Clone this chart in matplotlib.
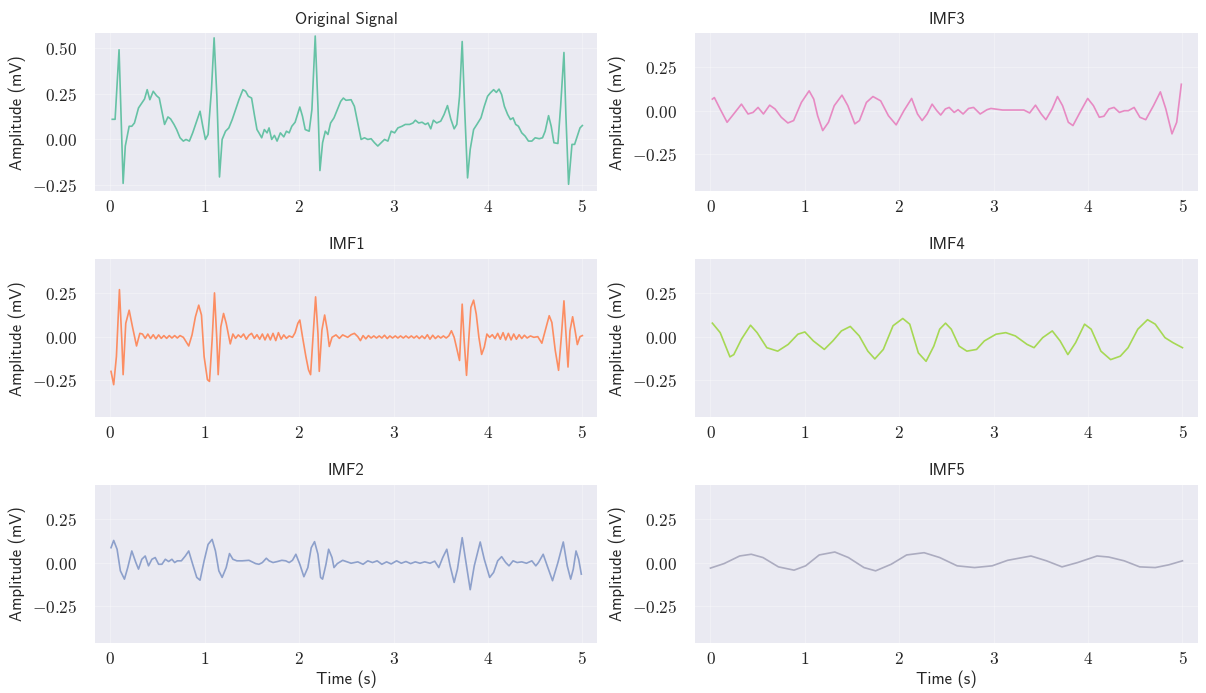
import matplotlib
matplotlib.use("Agg")
import matplotlib.pyplot as plt
from matplotlib.ticker import FuncFormatter


# 1. DATOS (tiempo en s, amplitud en mV)

orig_t = [0.02, 0.05, 0.092, 0.135, 0.158, 0.199, 0.227, 0.255, 0.298, 0.333,
          0.362, 0.39, 0.418, 0.454, 0.489, 0.518, 0.553, 0.574, 0.61, 0.638,
          0.674, 0.702, 0.738, 0.773, 0.801, 0.837, 0.872, 0.908, 0.95, 0.979,
          1.007, 1.035, 1.071, 1.099, 1.128, 1.156, 1.184, 1.22, 1.255, 1.291,
          1.326, 1.362, 1.404, 1.433, 1.461, 1.496, 1.525, 1.553, 1.574, 1.603,
          1.631, 1.66, 1.681, 1.709, 1.738, 1.766, 1.801, 1.837, 1.865, 1.894,
          1.922, 1.957, 2.007, 2.035, 2.064, 2.106, 2.135, 2.17, 2.199, 2.22,
          2.248, 2.277, 2.305, 2.333, 2.369, 2.404, 2.44, 2.468, 2.496, 2.55,
          2.585, 2.621, 2.656, 2.692, 2.727, 2.762, 2.798, 2.833, 2.869, 2.904,
          2.94, 2.975, 3.011, 3.046, 3.089, 3.124, 3.17, 3.206, 3.231, 3.266,
          3.302, 3.337, 3.365, 3.394, 3.422, 3.457, 3.5, 3.535, 3.571, 3.606,
          3.642, 3.67, 3.699, 3.727, 3.755, 3.784, 3.812, 3.848, 3.883, 3.926,
          3.961, 3.996, 4.025, 4.06, 4.089, 4.117, 4.145, 4.174, 4.209, 4.238,
          4.266, 4.294, 4.323, 4.358, 4.394, 4.429, 4.465, 4.5, 4.543, 4.578,
          4.606, 4.642, 4.67, 4.699, 4.741, 4.77, 4.805, 4.826, 4.854, 4.89,
          4.918, 4.947, 4.975, 5.0]
orig_v = [0.11, 0.11, 0.49, -0.24, -0.036, 0.072, 0.072, 0.09, 0.172, 0.199,
          0.221, 0.272, 0.217, 0.263, 0.239, 0.226, 0.136, 0.082, 0.123, 0.112,
          0.082, 0.054, 0.009, -0.009, 0.0, -0.009, 0.036, 0.09, 0.154, 0.072,
          0.0, 0.027, 0.272, 0.555, 0.236, -0.205, 0.0, 0.045, 0.063, 0.109,
          0.163, 0.217, 0.272, 0.263, 0.236, 0.226, 0.136, 0.054, 0.036, 0.009,
          0.054, 0.036, 0.063, 0.0, 0.022, -0.009, 0.036, 0.014, 0.045, 0.036,
          0.072, 0.094, 0.177, 0.127, 0.054, 0.045, 0.163, 0.565, 0.181, -0.17,
          -0.018, 0.045, 0.027, 0.09, 0.118, 0.163, 0.208, 0.226, 0.214, 0.217,
          0.181, 0.09, 0.0, 0.009, 0.0, 0.004, -0.018, -0.036, -0.018, 0.0,
          -0.009, 0.045, 0.036, 0.063, 0.072, 0.082, 0.082, 0.09, 0.105, 0.09,
          0.094, 0.082, 0.09, 0.058, 0.105, 0.09, 0.1, 0.136, 0.185, 0.112,
          0.058, 0.082, 0.236, 0.535, 0.145, -0.21, -0.054, 0.054, 0.082, 0.118,
          0.181, 0.236, 0.254, 0.272, 0.257, 0.275, 0.245, 0.181, 0.136, 0.109,
          0.118, 0.082, 0.072, 0.036, 0.018, -0.009, -0.009, 0.009, 0.004, 0.009,
          0.045, 0.13, 0.072, -0.018, -0.022, 0.181, 0.475, 0.127, -0.245, -0.027,
          -0.027, 0.018, 0.063, 0.076]

imf1_t = [0.007, 0.035, 0.064, 0.096, 0.121, 0.135, 0.163, 0.199, 0.234, 0.277,
          0.312, 0.34, 0.369, 0.397, 0.426, 0.454, 0.482, 0.511, 0.539, 0.567,
          0.596, 0.624, 0.652, 0.681, 0.709, 0.738, 0.773, 0.83, 0.865, 0.901,
          0.936, 0.965, 0.993, 1.028, 1.05, 1.078, 1.103, 1.128, 1.142, 1.17,
          1.199, 1.227, 1.27, 1.298, 1.326, 1.355, 1.383, 1.411, 1.44, 1.468,
          1.496, 1.525, 1.553, 1.582, 1.61, 1.638, 1.667, 1.695, 1.723, 1.752,
          1.78, 1.809, 1.837, 1.865, 1.894, 1.929, 1.957, 1.986, 2.007, 2.035,
          2.071, 2.099, 2.121, 2.149, 2.174, 2.199, 2.213, 2.241, 2.27, 2.298,
          2.319, 2.348, 2.39, 2.426, 2.461, 2.514, 2.55, 2.585, 2.621, 2.649,
          2.677, 2.706, 2.734, 2.762, 2.791, 2.819, 2.848, 2.876, 2.904, 2.933,
          2.961, 2.989, 3.018, 3.046, 3.074, 3.103, 3.131, 3.16, 3.188, 3.216,
          3.245, 3.273, 3.301, 3.33, 3.358, 3.386, 3.415, 3.443, 3.472, 3.5,
          3.528, 3.557, 3.585, 3.613, 3.642, 3.67, 3.699, 3.727, 3.748, 3.773,
          3.798, 3.819, 3.848, 3.876, 3.904, 3.933, 3.961, 3.989, 4.018, 4.046,
          4.074, 4.103, 4.131, 4.16, 4.188, 4.216, 4.245, 4.273, 4.301, 4.33,
          4.358, 4.386, 4.415, 4.45, 4.486, 4.528, 4.571, 4.606, 4.649, 4.677,
          4.713, 4.748, 4.777, 4.805, 4.826, 4.848, 4.869, 4.897, 4.926, 4.947,
          4.975, 5.0]
imf1_v = [-0.201, -0.278, -0.115, 0.272, -0.019, -0.22, 0.077, 0.153, 0.057, -0.054,
          0.019, 0.015, -0.01, 0.015, -0.011, 0.011, -0.013, 0.01, -0.01, 0.006,
          -0.01, 0.006, -0.008, 0.006, -0.008, 0.006, -0.004, -0.054, 0.01, 0.115,
          0.182, 0.125, -0.115, -0.249, -0.259, -0.019, 0.253, -0.019, -0.22, 0.057,
          0.134, 0.077, -0.042, 0.015, -0.01, 0.01, -0.004, 0.015, -0.015, 0.008,
          0.019, -0.01, 0.011, -0.015, 0.015, -0.019, 0.015, -0.019, 0.019, -0.023,
          0.023, -0.015, 0.01, -0.01, 0.004, -0.004, 0.023, 0.077, 0.096, 0.0,
          -0.115, -0.192, -0.22, 0.019, 0.23, 0.019, -0.201, 0.038, 0.125, 0.038,
          -0.057, -0.004, 0.01, -0.01, 0.01, -0.004, 0.011, 0.019, 0.0, -0.023,
          0.006, -0.013, 0.006, -0.008, 0.004, -0.008, 0.004, -0.008, 0.008, -0.011,
          0.004, -0.008, 0.004, -0.008, 0.004, -0.008, 0.004, -0.008, 0.004, -0.008,
          0.004, -0.011, 0.004, -0.011, 0.011, -0.015, 0.008, -0.011, 0.004, -0.008,
          0.004, -0.008, 0.004, 0.034, -0.004, -0.071, -0.138, 0.188, -0.023, -0.224,
          -0.004, 0.169, 0.211, 0.13, -0.004, -0.103, -0.061, 0.015, -0.004, 0.011,
          -0.011, 0.019, -0.015, 0.023, -0.019, 0.019, -0.019, 0.015, -0.015, 0.011,
          -0.011, 0.008, -0.008, 0.004, -0.004, 0.0, -0.038, 0.034, 0.121, 0.082,
          -0.08, -0.195, -0.004, 0.207, 0.015, -0.176, 0.034, 0.115, 0.025, -0.046,
          0.0, 0.006]

imf2_t = [0.007, 0.035, 0.071, 0.106, 0.149, 0.184, 0.227, 0.27, 0.298, 0.333,
          0.369, 0.404, 0.44, 0.475, 0.511, 0.546, 0.582, 0.617, 0.652, 0.681,
          0.709, 0.752, 0.794, 0.83, 0.872, 0.915, 0.95, 0.993, 1.035, 1.078,
          1.113, 1.149, 1.184, 1.227, 1.262, 1.298, 1.34, 1.397, 1.468, 1.539,
          1.574, 1.61, 1.652, 1.681, 1.723, 1.77, 1.816, 1.858, 1.894, 1.929,
          1.965, 2.007, 2.05, 2.092, 2.128, 2.163, 2.199, 2.227, 2.248, 2.284,
          2.312, 2.348, 2.369, 2.404, 2.461, 2.55, 2.621, 2.677, 2.727, 2.777,
          2.826, 2.876, 2.926, 2.975, 3.032, 3.082, 3.131, 3.181, 3.23, 3.28,
          3.33, 3.387, 3.436, 3.479, 3.521, 3.564, 3.599, 3.642, 3.677, 3.727,
          3.762, 3.812, 3.855, 3.918, 3.961, 4.018, 4.06, 4.103, 4.145, 4.188,
          4.223, 4.266, 4.309, 4.358, 4.408, 4.465, 4.507, 4.535, 4.585, 4.628,
          4.684, 4.741, 4.798, 4.84, 4.876, 4.904, 4.933, 4.961, 4.989]
imf2_v = [0.086, 0.128, 0.077, -0.048, -0.096, -0.029, 0.067, 0.0, -0.038, 0.019,
          0.038, -0.019, 0.019, 0.029, -0.01, -0.01, 0.019, 0.006, 0.019, 0.0,
          0.01, 0.01, 0.038, 0.067, -0.01, -0.086, -0.102, 0.01, 0.105, 0.134,
          0.067, -0.048, -0.086, -0.029, 0.052, 0.019, 0.01, 0.01, 0.013, -0.006,
          -0.01, 0.0, 0.025, 0.01, 0.0, 0.006, 0.013, 0.01, 0.0, 0.013,
          0.048, -0.01, -0.082, -0.029, 0.086, 0.121, 0.048, -0.086, -0.096, -0.01,
          0.077, 0.029, -0.029, -0.006, 0.013, -0.004, 0.004, -0.01, 0.01, 0.0,
          0.01, -0.01, 0.004, -0.008, 0.01, -0.004, 0.006, -0.006, 0.004, -0.004,
          0.004, -0.004, 0.008, -0.029, 0.029, 0.077, -0.019, -0.115, -0.038, 0.144,
          0.019, -0.157, -0.019, 0.119, 0.019, -0.086, -0.057, 0.01, 0.034, 0.0,
          -0.019, 0.01, 0.0, 0.004, -0.004, 0.01, -0.019, 0.0, 0.048, -0.019,
          -0.105, 0.0, 0.119, -0.019, -0.096, -0.038, 0.067, 0.019, -0.067]

imf3_t = [0.02, 0.041, 0.102, 0.176, 0.246, 0.328, 0.398, 0.451, 0.504, 0.561,
          0.627, 0.684, 0.75, 0.82, 0.881, 0.963, 1.045, 1.094, 1.135, 1.189,
          1.25, 1.311, 1.393, 1.455, 1.529, 1.578, 1.652, 1.721, 1.803, 1.885,
          1.967, 2.049, 2.131, 2.193, 2.242, 2.295, 2.348, 2.398, 2.439, 2.488,
          2.529, 2.582, 2.623, 2.676, 2.734, 2.787, 2.857, 2.93, 2.971, 3.094,
          3.217, 3.32, 3.381, 3.443, 3.504, 3.553, 3.619, 3.676, 3.73, 3.791,
          3.84, 3.914, 3.996, 4.057, 4.119, 4.168, 4.221, 4.275, 4.332, 4.385,
          4.426, 4.488, 4.549, 4.611, 4.693, 4.766, 4.824, 4.889, 4.939, 4.988]
imf3_v = [0.067, 0.076, 0.01, -0.067, -0.019, 0.038, -0.019, -0.01, 0.019, -0.019,
          0.032, 0.01, -0.038, -0.071, -0.057, 0.048, 0.115, 0.067, -0.029, -0.115,
          -0.067, 0.029, 0.09, 0.029, -0.076, -0.057, 0.048, 0.082, 0.057, -0.029,
          -0.082, 0.0, 0.071, -0.019, -0.057, -0.019, 0.038, 0.0, -0.025, 0.01,
          0.019, -0.01, 0.006, -0.019, 0.013, 0.019, -0.019, 0.006, 0.013, 0.004,
          0.004, 0.004, -0.013, 0.032, -0.019, -0.052, 0.01, 0.082, 0.029, -0.067,
          -0.086, -0.01, 0.071, 0.029, -0.038, -0.032, 0.01, 0.019, -0.01, 0.0,
          0.0, 0.019, -0.038, -0.052, 0.029, 0.109, 0.01, -0.134, -0.067, 0.153]

imf4_t = [0.02, 0.103, 0.206, 0.247, 0.329, 0.424, 0.494, 0.597, 0.712, 0.823,
          0.926, 1.0, 1.09, 1.206, 1.296, 1.387, 1.481, 1.576, 1.667, 1.741,
          1.831, 1.934, 2.037, 2.111, 2.202, 2.284, 2.366, 2.428, 2.49, 2.551,
          2.634, 2.716, 2.819, 2.901, 3.025, 3.128, 3.23, 3.354, 3.428, 3.519,
          3.621, 3.704, 3.786, 3.868, 3.963, 4.033, 4.136, 4.239, 4.342, 4.424,
          4.527, 4.63, 4.712, 4.815, 4.9, 5.0]
imf4_v = [0.078, 0.023, -0.117, -0.104, -0.014, 0.066, 0.023, -0.064, -0.084, -0.045,
          0.014, 0.027, -0.025, -0.074, -0.025, 0.033, 0.059, 0.004, -0.084, -0.129,
          -0.074, 0.063, 0.105, 0.072, -0.094, -0.143, -0.055, 0.043, 0.078, 0.043,
          -0.055, -0.084, -0.074, -0.025, 0.014, 0.023, 0.004, -0.045, -0.064, -0.006,
          0.033, -0.025, -0.104, -0.035, 0.072, 0.043, -0.084, -0.133, -0.113, -0.064,
          0.043, 0.098, 0.072, -0.006, -0.035, -0.064]

imf5_t = [0.0, 0.144, 0.309, 0.432, 0.556, 0.72, 0.885, 1.008, 1.152, 1.317,
          1.461, 1.626, 1.749, 1.914, 2.078, 2.263, 2.428, 2.613, 2.798, 2.984,
          3.148, 3.395, 3.56, 3.724, 3.889, 4.095, 4.218, 4.383, 4.547, 4.712,
          4.856, 5.0]
imf5_v = [-0.032, -0.006, 0.038, 0.048, 0.029, -0.025, -0.044, -0.019, 0.044, 0.061,
          0.029, -0.029, -0.048, -0.01, 0.044, 0.057, 0.029, -0.019, -0.029, -0.019,
          0.013, 0.038, 0.01, -0.025, 0.0, 0.038, 0.032, 0.01, -0.025, -0.029,
          -0.013, 0.01]

titulos = ["Original Signal", "IMF1", "IMF2", "IMF3", "IMF4", "IMF5"]
colores = ["#66c2a5", "#fc8d62", "#8da0cb", "#e78ac3", "#a6d854", "#acacc0"]
series = [(orig_t, orig_v), (imf1_t, imf1_v), (imf2_t, imf2_v),
          (imf3_t, imf3_v), (imf4_t, imf4_v), (imf5_t, imf5_v)]


# 2. ESTILO

plt.rcParams["mathtext.fontset"] = "cm"
FUENTE = "cmss10"
FONDO = "#EAEAF2"

fmt_y = FuncFormatter(lambda v, p: f"${v:.2f}$")
fmt_x = FuncFormatter(lambda v, p: f"${v:g}$")


# 3. FIGURA

fig, axes = plt.subplots(3, 2, figsize=(12.06, 6.93), dpi=100)
fig.subplots_adjust(left=0.079, right=0.993, top=0.952, bottom=0.072,
                    wspace=0.195, hspace=0.43)

# orden: columna izquierda (original, imf1, imf2), derecha (imf3, imf4, imf5)
posiciones = [(0, 0), (1, 0), (2, 0), (0, 1), (1, 1), (2, 1)]

for i, (fila, col) in enumerate(posiciones):
    ax = axes[fila, col]
    t, v = series[i]
    ax.set_facecolor(FONDO)
    ax.plot(t, v, color=colores[i], linewidth=1.2)
    ax.set_title(titulos[i], fontfamily=FUENTE, fontsize=12, color="#262626", pad=7)
    ax.set_ylabel("Amplitude (mV)", fontfamily=FUENTE, fontsize=12, color="#262626")
    if fila == 2:
        ax.set_xlabel("Time (s)", fontfamily=FUENTE, fontsize=12, color="#262626", labelpad=2)

    ax.set_xlim(-0.16, 5.16)
    ax.set_xticks([0, 1, 2, 3, 4, 5])
    if i == 0:
        ax.set_ylim(-0.283, 0.58)
        ax.set_yticks([-0.25, 0.0, 0.25, 0.5])
    else:
        ax.set_ylim(-0.466, 0.448)
        ax.set_yticks([-0.25, 0.0, 0.25])
    ax.xaxis.set_major_formatter(fmt_x)
    ax.yaxis.set_major_formatter(fmt_y)

    ax.grid(True, color="white", linewidth=0.8, alpha=0.3)
    ax.set_axisbelow(True)
    for s in ax.spines.values():
        s.set_visible(False)
    ax.tick_params(length=0, labelsize=12.5, labelcolor="#262626")
    ax.tick_params(axis="x", pad=5)
    ax.tick_params(axis="y", pad=13)

fig.savefig("out.png", dpi=100, facecolor="white")
